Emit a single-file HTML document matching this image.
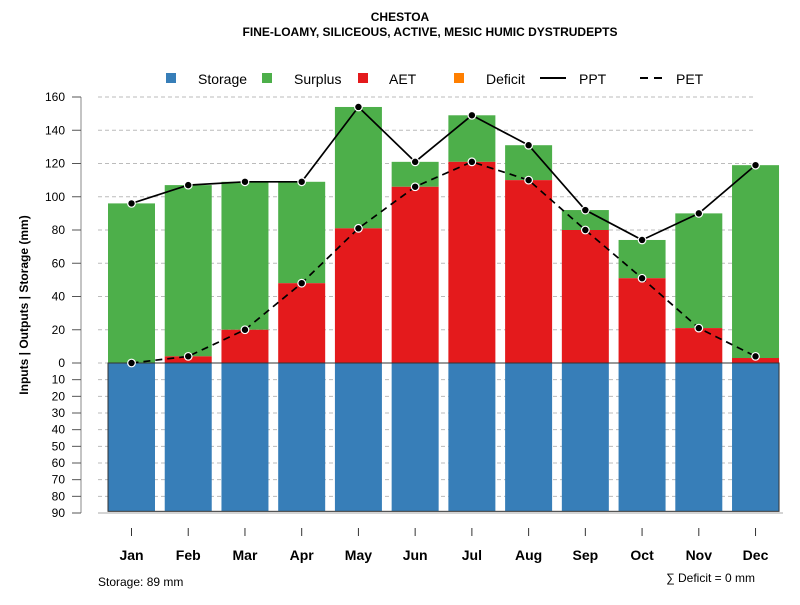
<!DOCTYPE html>
<html><head><meta charset="utf-8"><style>
body{margin:0;background:#fff}
svg text{font-family:"Liberation Sans",sans-serif}
</style></head><body>
<svg id="c" width="800" height="600" viewBox="0 0 800 600" xmlns="http://www.w3.org/2000/svg">
<text x="400" y="21" text-anchor="middle" font-size="12" font-weight="bold">CHESTOA</text>
<text x="430" y="36" text-anchor="middle" font-size="12" font-weight="bold">FINE-LOAMY, SILICEOUS, ACTIVE, MESIC HUMIC DYSTRUDEPTS</text>
<g id="legend">
<rect x="166" y="73" width="10" height="10" fill="#377eb8"/>
<text x="198" y="84" font-size="14">Storage</text>
<rect x="262" y="73" width="10" height="10" fill="#4daf4a"/>
<text x="294" y="84" font-size="14">Surplus</text>
<rect x="358" y="73" width="10" height="10" fill="#e41a1c"/>
<text x="389" y="84" font-size="14">AET</text>
<rect x="454" y="73" width="10" height="10" fill="#ff7f00"/>
<text x="486" y="84" font-size="14">Deficit</text>
<line x1="540" y1="78" x2="566" y2="78" stroke="#000" stroke-width="2"/>
<text x="579" y="84" font-size="14">PPT</text>
<line x1="640" y1="78" x2="666" y2="78" stroke="#000" stroke-width="2" stroke-dasharray="8,6"/>
<text x="676" y="84" font-size="14">PET</text>
</g>
<g id="grid"></g><g id="bars"></g><g id="lines"></g><g id="axes"></g>
<text x="98" y="586" font-size="12">Storage: 89 mm</text>
<text x="755" y="582" text-anchor="end" font-size="12">∑ Deficit = 0 mm</text>
<text transform="translate(28,305) rotate(-90)" text-anchor="middle" font-size="12" font-weight="bold">Inputs | Outputs | Storage    (mm)</text>
</svg>
<script>
const months=["Jan","Feb","Mar","Apr","May","Jun","Jul","Aug","Sep","Oct","Nov","Dec"];
const ppt=[96,107,109,109,154,121,149,131,92,74,90,119];
const pet=[0,4,20,48,81,106,121,110,80,51,21,4];
const aet=[0,4,20,48,81,106,121,110,80,51,21,3];
const storage=[89,89,89,89,89,89,89,89,89,89,89,89];
const upTicks=[0,20,40,60,80,100,120,140,160];
const downTicks=[10,20,30,40,50,60,70,80,90];
const NS="http://www.w3.org/2000/svg";
const y0=363,k=266/160;
const yUp=v=>y0-v*k, yDn=v=>y0+v*k*150/(90*k)*1;
const yD=v=>y0+v*150/90;
const xc=i=>131.5+i*56.73, bw=47;
function mk(t,a,p){const e=document.createElementNS(NS,t);for(const n in a)e.setAttribute(n,a[n]);document.getElementById(p).appendChild(e);return e;}
// grid
upTicks.concat(downTicks.map(d=>-d)).forEach(v=>{const y=v>=0?yUp(v):yD(-v);
const g=mk("line",{x1:98,x2:755,y1:y,y2:y,stroke:"#bbb","stroke-dasharray":"4,3"},"grid");

});
// bars
months.forEach((m,i)=>{const x=xc(i)-bw/2;
let r=mk("rect",{x:x,y:y0,width:bw,height:yD(storage[i])-y0,fill:"#377eb8"},"bars");


r=mk("rect",{x:x,y:yUp(ppt[i]),width:bw,height:(ppt[i]-aet[i])*k,fill:"#4daf4a"},"bars");


r=mk("rect",{x:x,y:yUp(aet[i]),width:bw,height:aet[i]*k,fill:"#e41a1c"},"bars");


});
let bx=mk("rect",{x:xc(0)-bw/2,y:y0,width:xc(11)+bw/2-(xc(0)-bw/2),height:yD(89)-y0,fill:"none",stroke:"#333","stroke-width":1},"bars");


// lines
function series(vals,dash,name){const pts=vals.map((v,i)=>xc(i)+","+yUp(v)).join(" ");
const l=mk("polyline",{points:pts,fill:"none",stroke:"#000","stroke-width":1.7,"stroke-dasharray":dash},"lines");


vals.forEach((v,i)=>{const c=mk("circle",{cx:xc(i),cy:yUp(v),r:3.8,fill:"#000",stroke:"#fff","stroke-width":1.2},"lines");

});}
series(pet,"7,5","pet");series(ppt,"none","ppt");
// axes
let a=mk("line",{x1:81,x2:81,y1:yUp(160),y2:yD(90),stroke:"#888","stroke-width":1},"axes");


upTicks.forEach(v=>{const y=yUp(v);
let t=mk("line",{x1:72,x2:81,y1:y,y2:y,stroke:"#555"},"axes");


t=mk("text",{x:65,y:y+4,"text-anchor":"end","font-size":12},"axes");t.textContent=v;

});
downTicks.forEach(v=>{const y=yD(v);
let t=mk("line",{x1:72,x2:81,y1:y,y2:y,stroke:"#555"},"axes");


t=mk("text",{x:65,y:y+4,"text-anchor":"end","font-size":12},"axes");t.textContent=v;

});
let xa=mk("line",{x1:98,x2:783,y1:513,y2:513,stroke:"#aaa"},"axes");


months.forEach((m,i)=>{let t=mk("line",{x1:xc(i),x2:xc(i),y1:528,y2:536,stroke:"#333"},"axes");


t=mk("text",{x:xc(i),y:560,"text-anchor":"middle","font-size":14,"font-weight":"bold"},"axes");t.textContent=m;

});
</script>
</body></html>
